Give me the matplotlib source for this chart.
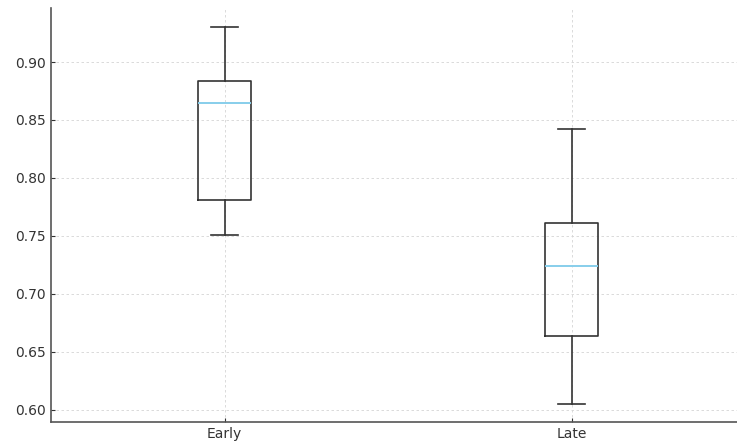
import matplotlib
matplotlib.use("Agg")
import matplotlib.pyplot as plt

categories = ["Early", "Late"]
# five-number summaries: low whisker, Q1, median, Q3, high whisker
whislo = [0.751, 0.605]
q1 = [0.781, 0.664]
med = [0.865, 0.724]
q3 = [0.884, 0.761]
whishi = [0.930, 0.842]

stats = []
for i, c in enumerate(categories):
    stats.append(dict(label=c, whislo=whislo[i], q1=q1[i], med=med[i],
                      q3=q3[i], whishi=whishi[i], fliers=[]))

fig = plt.figure(figsize=(7.37, 4.43), dpi=100)
ax = fig.add_axes([51/737, 1 - 422/443, (737 - 51)/737, (422 - 8)/443])

lc = "#333333"
ax.bxp(stats, positions=[1, 2], widths=0.15,
       boxprops=dict(color=lc, linewidth=1.2),
       whiskerprops=dict(color=lc, linewidth=1.2),
       capprops=dict(color=lc, linewidth=1.2),
       medianprops=dict(color="#87CEEB", linewidth=1.4))

ax.set_xlim(0.5, 0.5 + 686/347)
ax.set_ylim(0.5895, 0.9466)
ax.set_yticks([0.60, 0.65, 0.70, 0.75, 0.80, 0.85, 0.90])
ax.grid(True, linestyle=(0, (3, 3)), color="#d5d5d5", linewidth=0.6)
ax.set_axisbelow(True)
ax.spines["top"].set_visible(False)
ax.spines["right"].set_visible(False)
for s in ["left", "bottom"]:
    ax.spines[s].set_color("#555555")
    ax.spines[s].set_linewidth(1.2)
ax.tick_params(direction="in", length=3, colors="#333333", labelsize=10)

fig.savefig("out.png", dpi=100)
